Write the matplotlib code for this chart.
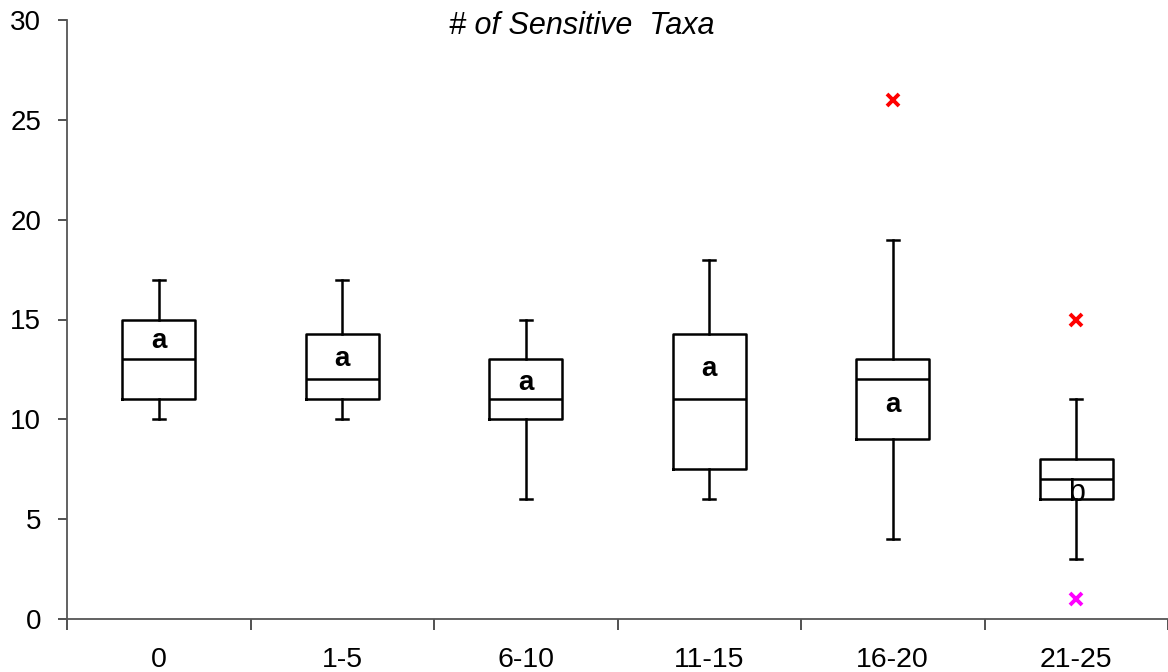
import matplotlib
matplotlib.use("Agg")
import matplotlib.pyplot as plt

plt.rcParams['font.family'] = ['Liberation Sans', 'DejaVu Sans']

# box summaries for each class of the x variable
groups = ['0', '1-5', '6-10', '11-15', '16-20', '21-25']
whis_lo = [10, 10, 6, 6, 4, 3]
q1 = [11, 11, 10, 7.5, 9, 6]
median = [13, 12, 11, 11, 12, 7]
q3 = [15, 14.25, 13, 14.25, 13, 8]
whis_hi = [17, 17, 15, 18, 19, 11]

# outliers (group index, value, colour)
out_group = [4, 5, 5]
out_value = [26, 15, 1]
out_color = ['#ff0000', '#ff0000', '#ff00ff']

# significance letters and where they sit
letters = ['a', 'a', 'a', 'a', 'a', 'b']
letter_y = [13.9, 13.0, 11.8, 12.5, 10.7, 6.3]

stats = []
for i, g in enumerate(groups):
    stats.append(dict(label=g, whislo=whis_lo[i], q1=q1[i], med=median[i],
                      q3=q3[i], whishi=whis_hi[i], fliers=[]))

fig = plt.figure(figsize=(11.68, 6.72), dpi=100)
ax = fig.add_axes([67 / 1168, 1 - 619 / 672, 1 - 67 / 1168, 599 / 672])

line = dict(color='black', linewidth=1.8)
ax.bxp(stats, positions=range(len(groups)), widths=0.4, capwidths=0.065,
       showfliers=False, boxprops=line, whiskerprops=line, capprops=line,
       medianprops=line)

for g, v, c in zip(out_group, out_value, out_color):
    ax.plot(g, v, marker='x', color=c, markersize=9, markeredgewidth=2.8,
            linestyle='none', zorder=5)

for i, (t, y) in enumerate(zip(letters, letter_y)):
    bold = t == 'a'
    ax.text(i, y, t, ha='center', va='center',
            fontsize=20 if bold else 22,
            fontweight='bold' if bold else 'normal', zorder=6)

ax.set_xlim(-0.5, len(groups) - 0.5)
ax.set_ylim(0, 30)
ax.set_yticks(range(0, 31, 5))

# group boundaries carry the tick marks, labels sit at the centres
ax.set_xticks([i - 0.5 for i in range(len(groups) + 1)])
ax.set_xticklabels([])
ax.set_xticks(range(len(groups)), minor=True)
ax.set_xticklabels(groups, minor=True)
ax.tick_params(axis='x', which='major', length=8, width=1.2, color='#333333')
ax.tick_params(axis='x', which='minor', length=0, pad=20, labelsize=20.5)
ax.tick_params(axis='y', length=6.5, width=1.2, color='#333333', pad=12,
               labelsize=20)

for side in ['top', 'right']:
    ax.spines[side].set_visible(False)
for side in ['left', 'bottom']:
    ax.spines[side].set_color('#555555')
    ax.spines[side].set_linewidth(1.3)

fig.text(582 / 1168, 1 - 26 / 672, '# of Sensitive  Taxa', ha='center',
         va='center', fontsize=22, style='italic')

fig.savefig('out.png', dpi=100)
